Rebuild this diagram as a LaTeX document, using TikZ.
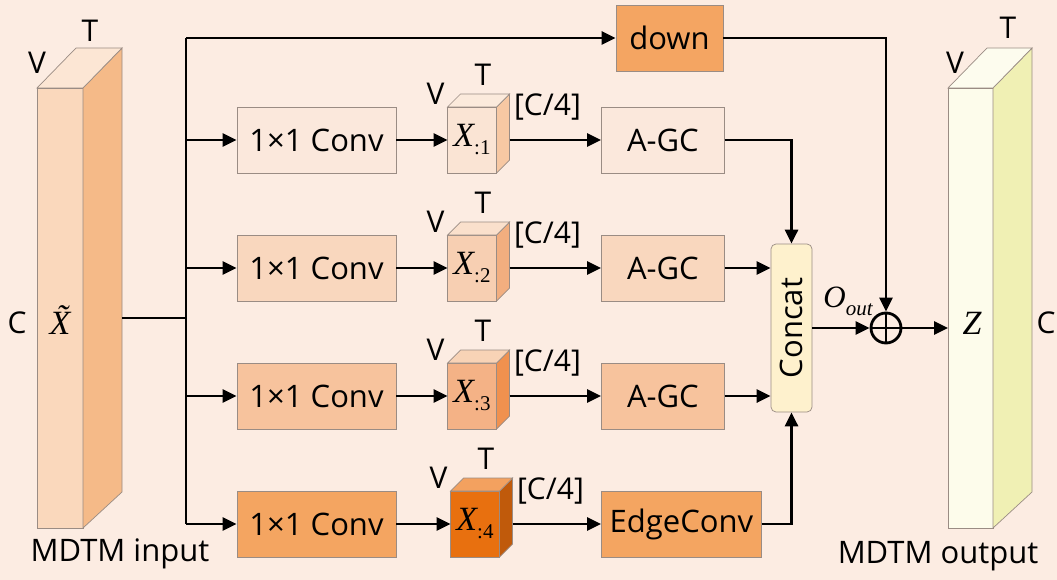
\documentclass[tikz,border=0pt]{standalone}
\usepackage{fontspec}
\setmainfont{Open Sans}
\newfontfamily\tnr{Liberation Serif}
\usepackage{tikz}
\usetikzlibrary{arrows.meta,positioning,calc}
\definecolor{bgpeach}{HTML}{FCECE2}
\definecolor{edgegray}{HTML}{9A8C84}
\definecolor{inFront}{HTML}{FAD8BC}
\definecolor{inSide}{HTML}{F5BA88}
\definecolor{inTop}{HTML}{FCE6D4}
\definecolor{outFront}{HTML}{FDFCEB}
\definecolor{outSide}{HTML}{F0F0B4}
\definecolor{outTop}{HTML}{FDFCEE}
\definecolor{conv1}{HTML}{FBE8DC}
\definecolor{conv2}{HTML}{F9D7BE}
\definecolor{conv3}{HTML}{F7C39D}
\definecolor{conv4}{HTML}{F4A561}
\definecolor{cubeF1}{HTML}{FAE4D4}
\definecolor{cubeS1}{HTML}{F7C8A3}
\definecolor{cubeT1}{HTML}{FBEADC}
\definecolor{cubeF2}{HTML}{F7CFB2}
\definecolor{cubeS2}{HTML}{F2AE7F}
\definecolor{cubeT2}{HTML}{FAE0CC}
\definecolor{cubeF3}{HTML}{F4B286}
\definecolor{cubeS3}{HTML}{F0914F}
\definecolor{cubeT3}{HTML}{F8D3B6}
\definecolor{cubeF4}{HTML}{E8700F}
\definecolor{cubeS4}{HTML}{C05A0B}
\definecolor{cubeT4}{HTML}{F3A15F}
\definecolor{downc}{HTML}{F4A562}
\definecolor{concatc}{HTML}{FEF1CD}
\newcommand{\boxfont}{\fontsize{31}{36}\selectfont}
\newcommand{\xsub}[1]{{\tnr\fontsize{34}{36}\selectfont\itshape X}{\tnr\fontsize{21}{22}\selectfont\raisebox{-8pt}{:#1}}}
\tikzset{
  face/.style={draw=edgegray, line width=0.7pt},
  slab/.style={rectangle, draw=edgegray, line width=0.7pt, outer sep=0pt,
    inner sep=0pt, minimum width=46pt, minimum height=440pt},
  cubefront/.style={rectangle, draw=edgegray, line width=0.7pt, outer sep=0pt,
    inner sep=0pt, minimum width=49pt, minimum height=66pt},
  opbox/.style={rectangle, draw=edgegray, line width=0.7pt,
    minimum height=66pt, inner sep=2pt, font=\boxfont},
  concatbox/.style={rectangle, rounded corners=5pt, draw=edgegray, line width=0.7pt,
    fill=concatc, minimum width=41pt, minimum height=168pt, inner sep=0pt, font=\boxfont},
  sumnode/.style={circle, draw, line width=2.8pt, minimum size=30pt, inner sep=0pt,
    path picture={\draw[line width=2.6pt] (path picture bounding box.north) -- (path picture bounding box.south)
      (path picture bounding box.west) -- (path picture bounding box.east);}},
  dimlbl/.style={font=\fontsize{30}{32}\selectfont, inner sep=0pt},
  caption/.style={font=\boxfont, inner sep=0pt},
  wire/.style={line width=2.8pt},
  flow/.style={wire, -{Triangle[length=14pt,width=13pt]}},
}

\begin{document}
\begin{tikzpicture}[x=1pt, y=-1pt]
  \useasboundingbox (0,0) rectangle (1057,580);
  \fill[bgpeach] (0,0) rectangle (1057,580);

  % input tensor
  \node[slab, fill=inFront] (xin) at (60,308) {};
  \filldraw[face, fill=inSide] (xin.north east) -- ++(39,-40) -- ++(0,444) -- (xin.south east) -- cycle;
  \filldraw[face, fill=inTop] (xin.north west) -- ++(39,-40) -- ++(46,0) -- (xin.north east) -- cycle;
  \node[inner sep=0pt] (xtil) at (60,320) {\tnr\fontsize{34}{36}\selectfont\itshape \~{X}};
  \node[dimlbl] (tin) at (90,31) {T};
  \node[dimlbl] (vin) at (37,63) {V};
  \node[dimlbl] (cin) at (17,323) {C};
  \node[caption] (capin) at (120,554) {MDTM input};

  % output tensor
  \node[slab, fill=outFront, minimum width=45pt] (xout) at (970.5,308) {};
  \filldraw[face, fill=outSide] (xout.north east) -- ++(39,-40) -- ++(0,444) -- (xout.south east) -- cycle;
  \filldraw[face, fill=outTop] (xout.north west) -- ++(39,-40) -- ++(45,0) -- (xout.north east) -- cycle;
  \node[inner sep=0pt] (zlbl) at (972,323) {\tnr\fontsize{34}{36}\selectfont\itshape Z};
  \node[dimlbl] (tout) at (1008,28) {T};
  \node[dimlbl] (vout) at (955,63) {V};
  \node[dimlbl] (cout) at (1046,323) {C};
  \node[caption] (capout) at (938,556) {MDTM output};

  % bus and shortcut
  \coordinate (xinout) at ([shift={(39,10)}]xin.east);
  \coordinate (bustop) at (186,38);
  \coordinate (busbot) at (186,524);
  \draw[wire] (xinout) -- (xinout -| bustop);
  \draw[wire] (bustop) -- (busbot);
  \node[opbox, fill=downc, minimum width=107pt] (down) at (669.5,38) {down};
  \draw[flow] (bustop) -- (down);

  \node[concatbox] (concat) at (791.5,328) {\rotatebox{90}{Concat}};
  \node[sumnode] (oplus) at (886,328) {};
  \node[inner sep=0pt] (oout) at (848,301) {{\tnr\fontsize{31}{33}\selectfont\itshape O}{\tnr\fontsize{21}{22}\selectfont\itshape\raisebox{-8pt}{out}}};

  % branches
  \foreach \i/\ry/\cx/\op/\ow in {1/140/472/A-GC/123, 2/268/472/A-GC/123, 3/396/472/A-GC/123, 4/524/475/EdgeConv/160} {
    \node[opbox, fill=conv\i, minimum width=159pt] (conv\i) at (316.5,\ry) {1×1 Conv};
    \node[cubefront, fill=cubeF\i] (x\i) at (\cx,\ry) {\xsub{\i}};
    \filldraw[face, fill=cubeS\i] (x\i.north east) -- ++(13,-13) -- ++(0,66) -- (x\i.south east) -- cycle;
    \filldraw[face, fill=cubeT\i] (x\i.north west) -- ++(13,-13) -- ++(49,0) -- (x\i.north east) -- cycle;
    \node[dimlbl] (v\i) at ([shift={(-12,-13)}]x\i.north west) {V};
    \node[dimlbl] (t\i) at ([shift={(11,-32)}]x\i.north) {T};
    \node[dimlbl] (c\i) at ([shift={(51,0)}]x\i.north east) {[C/4]};
    \node[opbox, fill=conv\i, minimum width=\ow pt, anchor=west] (op\i) at (601,\ry) {\op};
    \draw[flow] (conv\i.west -| bustop) -- (conv\i);
    \draw[flow] (conv\i) -- (x\i);
    \draw[flow] ([shift={(13,0)}]x\i.east) -- (op\i);
  }
  \draw[flow] (op1) -| (concat);
  \draw[flow] (op2) -- (op2 -| concat.west);
  \draw[flow] (op3) -- (op3 -| concat.west);
  \draw[flow] (op4) -| (concat);
  \draw[flow] (concat) -- (oplus);
  \draw[flow] (down) -| (oplus);
  \draw[flow] (oplus) -- (oplus -| xout.west);
\end{tikzpicture}
\end{document}
